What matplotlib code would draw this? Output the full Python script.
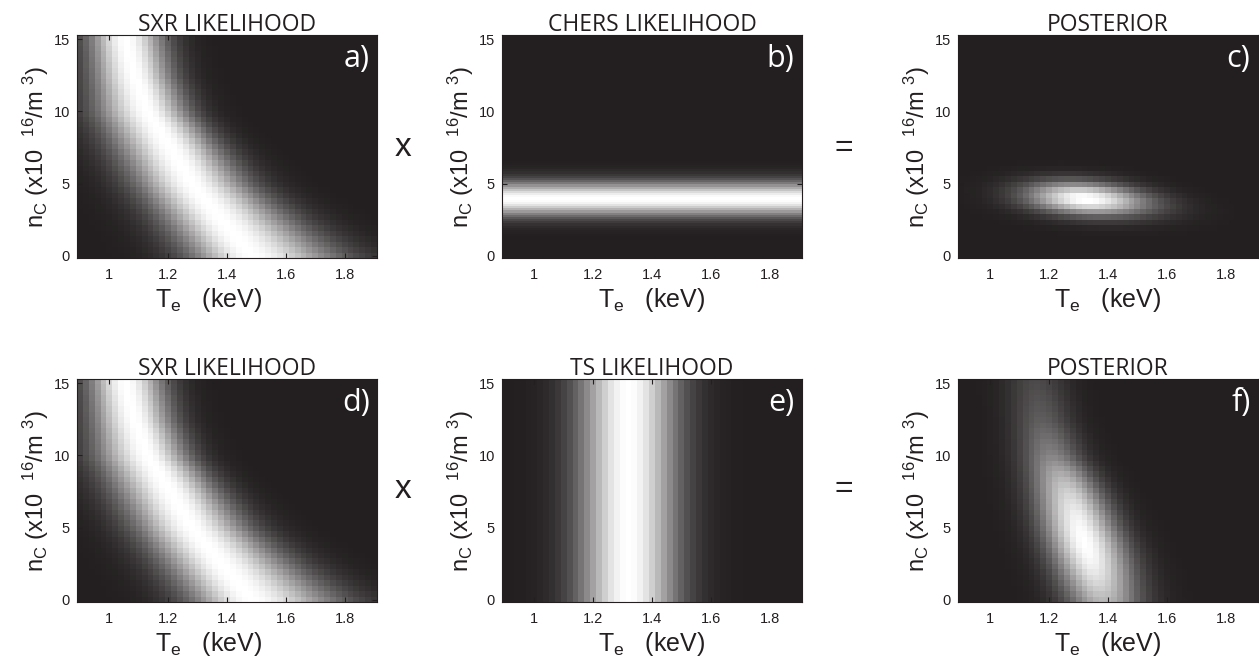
import numpy as np
import matplotlib
matplotlib.use("Agg")
import matplotlib.pyplot as plt
from matplotlib.colors import LinearSegmentedColormap

# --- values ------------------------------------------------------------
# grid of the likelihood images
te_edges = np.linspace(0.89, 1.91, 52)          # keV, 0.02 keV cells
nc_edges = np.linspace(-0.15, 15.3, 42)         # x10^16 /m^3
nc_edges_fine = np.linspace(-0.15, 15.3, 104)   # CHERS panel is drawn finer

# SXR ridge (brightest Te for a given n_C) and its half widths
sxr_nc = [0.0, 2.5, 5.0, 7.5, 10.0, 12.5, 15.0]
sxr_te_ridge = [1.48, 1.38, 1.28, 1.21, 1.13, 1.085, 1.055]
sxr_sigma_lo = [0.14, 0.135, 0.13, 0.13, 0.12, 0.10, 0.088]
sxr_sigma_hi = [0.20, 0.16, 0.13, 0.11, 0.095, 0.09, 0.09]

# CHERS measurement of n_C, TS measurement of Te
chers_nc, chers_sigma = 3.95, 0.8
ts_te, ts_sigma = 1.32, 0.115

titles = ["SXR LIKELIHOOD", "CHERS LIKELIHOOD", "POSTERIOR",
          "SXR LIKELIHOOD", "TS LIKELIHOOD", "POSTERIOR"]
letters = ["a)", "b)", "c)", "d)", "e)", "f)"]
xticks = [1, 1.2, 1.4, 1.6, 1.8]
xticklabels = ["1", "1.2", "1.4", "1.6", "1.8"]
yticks = [0, 5, 10, 15]


def centers(edges):
    return 0.5 * (edges[1:] + edges[:-1])


def sxr_like(te, nc):
    T, N = np.meshgrid(te, nc)
    ridge = np.interp(N, sxr_nc, sxr_te_ridge)
    s = np.where(T < ridge, np.interp(N, sxr_nc, sxr_sigma_lo),
                 np.interp(N, sxr_nc, sxr_sigma_hi))
    return np.exp(-0.5 * ((T - ridge) / s) ** 2)


te = centers(te_edges)
nc = centers(nc_edges)
nc_fine = centers(nc_edges_fine)

sxr = sxr_like(te, nc)
chers = np.exp(-0.5 * ((nc - chers_nc) / chers_sigma) ** 2)[:, None] * np.ones((1, te.size))
chers_fine = np.exp(-0.5 * ((nc_fine - chers_nc) / chers_sigma) ** 2)[:, None] * np.ones((1, te.size))
ts = np.exp(-0.5 * ((te - ts_te) / ts_sigma) ** 2)[None, :] * np.ones((nc.size, 1))
post1 = sxr * chers
post1 /= post1.max()
post2 = sxr * ts
post2 /= post2.max()

images = [(nc_edges, sxr), (nc_edges_fine, chers_fine), (nc_edges, post1),
          (nc_edges, sxr), (nc_edges, ts), (nc_edges, post2)]

# --- figure --------------------------------------------------------------
W, H = 1259, 658
ink = "#231f20"
cmap = LinearSegmentedColormap.from_list("k2w", [ink, "#ffffff"])
plt.rcParams["font.family"] = ["Liberation Sans", "DejaVu Sans"]
plt.rcParams["mathtext.fontset"] = "custom"
plt.rcParams["mathtext.rm"] = "Liberation Sans"
plt.rcParams["mathtext.it"] = "Liberation Sans:italic"

fig = plt.figure(figsize=(W / 100, H / 100), dpi=100)

# axes boxes in pixels: left, top, width, height
lefts = [77, 502, 958]
tops = [35, 379]
for i in range(6):
    r, c = divmod(i, 3)
    l, t = lefts[c], tops[r]
    ax = fig.add_axes([l / W, 1 - (t + 223) / H, 300 / W, 223 / H])
    yed, z = images[i]
    ax.pcolormesh(te_edges, yed, z, cmap=cmap, vmin=0, vmax=1, shading="flat")
    ax.set_xlim(0.89, 1.91)
    ax.set_ylim(-0.15, 15.3)
    ax.set_xticks(xticks)
    ax.set_xticklabels(xticklabels)
    ax.set_yticks(yticks)
    ax.tick_params(direction="in", length=3.5, width=0.8, labelsize=10.5,
                   top=True, right=True, pad=7, colors=ink)
    ax.tick_params(axis="y", pad=5)
    for sp in ax.spines.values():
        sp.set_linewidth(0.8)
        sp.set_color(ink)
    ax.set_title(titles[i], fontsize=16.5, family=["Open Sans", "DejaVu Sans"],
                 pad=3, color=ink)
    ax.set_xlabel("T$_\\mathregular{e}$   (keV)", fontsize=18, color=ink)
    ax.set_ylabel("n$_\\mathregular{C}$ (x10  $^\\mathregular{16}$/m $^\\mathregular{3}$)",
                  fontsize=17, color=ink)
    ax.xaxis.set_label_coords(0.44 if c == 0 else 0.5, -0.125)
    ax.yaxis.set_label_coords(-0.088, 0.5)
    ax.text(0.975, 0.855, letters[i], transform=ax.transAxes, ha="right",
            va="baseline", color="white", fontsize=22,
            family=["Open Sans", "DejaVu Sans"])

# operators between the panels
for y in (148, 489):
    fig.text(403 / W, 1 - y / H, "x", ha="center", va="center", fontsize=24, color=ink)
    fig.text(844 / W, 1 - y / H, "=", ha="center", va="center", fontsize=23, color=ink)

fig.savefig("out.png", dpi=100)
